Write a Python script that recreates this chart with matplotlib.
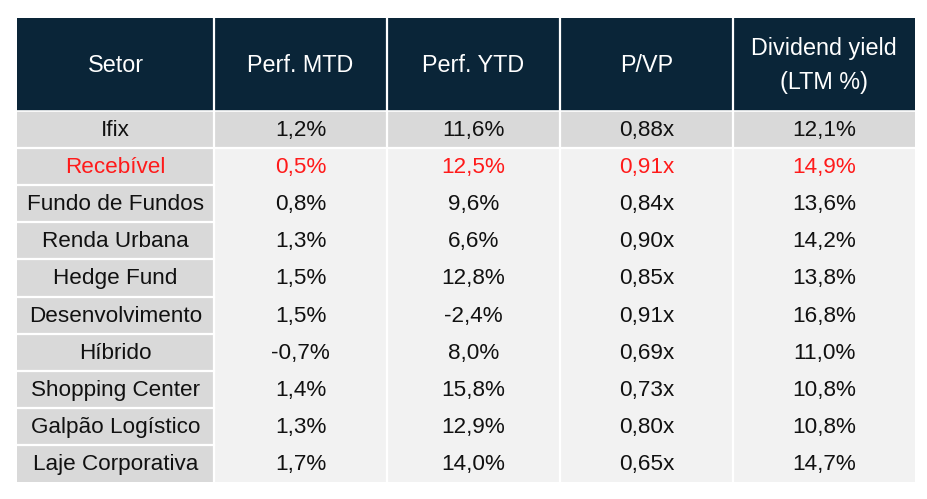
import matplotlib.pyplot as plt
from matplotlib.patches import Rectangle

plt.rcParams['font.family'] = ['Liberation Sans', 'DejaVu Sans']

headers = ["Setor", "Perf. MTD", "Perf. YTD", "P/VP", "Dividend yield\n(LTM %)"]
setores = ["Ifix", "Recebível", "Fundo de Fundos", "Renda Urbana", "Hedge Fund",
           "Desenvolvimento", "Híbrido", "Shopping Center", "Galpão Logístico",
           "Laje Corporativa"]
perf_mtd = ["1,2%", "0,5%", "0,8%", "1,3%", "1,5%", "1,5%", "-0,7%", "1,4%", "1,3%", "1,7%"]
perf_ytd = ["11,6%", "12,5%", "9,6%", "6,6%", "12,8%", "-2,4%", "8,0%", "15,8%", "12,9%", "14,0%"]
p_vp = ["0,88x", "0,91x", "0,84x", "0,90x", "0,85x", "0,91x", "0,69x", "0,73x", "0,80x", "0,65x"]
dy = ["12,1%", "14,9%", "13,6%", "14,2%", "13,8%", "16,8%", "11,0%", "10,8%", "10,8%", "14,7%"]
destaque = "Recebível"

# layout in pixels
col_edges = [17, 214, 387, 560, 733, 915]
top, head_bot, bottom = 18, 111, 482
row_h = (bottom - head_bot) / len(setores)

navy = "#0a2538"
gray_dark = "#d9d9d9"
gray_light = "#f2f2f2"

fig = plt.figure(figsize=(9.28, 4.99), dpi=100)
ax = fig.add_axes([0, 0, 1, 1])
ax.set_xlim(0, 928)
ax.set_ylim(499, 0)
ax.axis("off")

# header
for j, h in enumerate(headers):
    x0, x1 = col_edges[j], col_edges[j + 1]
    ax.add_patch(Rectangle((x0, top), x1 - x0, head_bot - top, color=navy, lw=0))
    ax.text((x0 + x1) / 2, (top + head_bot) / 2 + 1, h, color="white", fontsize=16.8,
            ha="center", va="center", linespacing=1.6)

# body backgrounds
cols = [setores, perf_mtd, perf_ytd, p_vp, dy]
for i in range(len(setores)):
    y0 = head_bot + i * row_h
    for j in range(len(cols)):
        x0, x1 = col_edges[j], col_edges[j + 1]
        fc = gray_dark if (j == 0 or i == 0) else gray_light
        ax.add_patch(Rectangle((x0, y0), x1 - x0, row_h, color=fc, lw=0))
        color = "#ff1a1a" if setores[i] == destaque else "#111111"
        ax.text((x0 + x1) / 2, y0 + row_h / 2 + 1, cols[j][i], color=color,
                fontsize=16.2, ha="center", va="center")

# white separators
for x in col_edges[1:-1]:
    ax.plot([x, x], [top, bottom], color="white", lw=1.6)
for i in range(1, len(setores)):
    y = head_bot + i * row_h
    x_end = col_edges[-1] if i == 1 else col_edges[1]
    ax.plot([col_edges[0], x_end], [y, y], color="white", lw=1.6)
ax.plot([col_edges[0], col_edges[-1]], [head_bot, head_bot], color="white", lw=1.2)

fig.savefig("out.png", dpi=100)
